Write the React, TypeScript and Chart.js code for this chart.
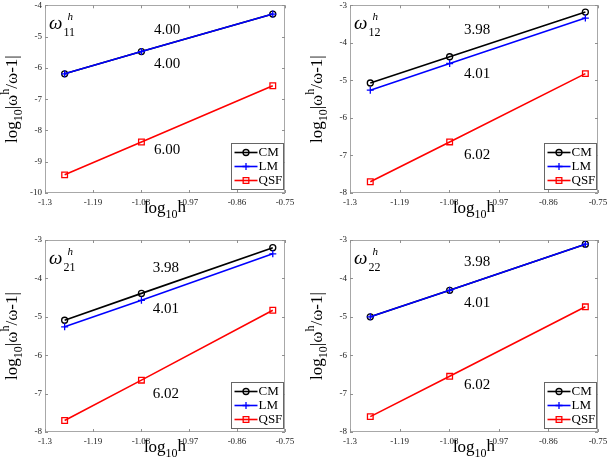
import React, { useEffect, useRef } from 'react';
import { Chart, registerables } from 'chart.js';
import { drawPoint } from 'chart.js/helpers';

Chart.register(...registerables);

// ---------- data ----------
const X_LOG_H = [-1.255, -1.079, -0.778];
const X_TICKS = [-1.3, -1.19, -1.08, -0.97, -0.86, -0.75];
const SERIES_NAMES = ['CM', 'LM', 'QSF'];

const Y_TICKS_11 = [-10, -9, -8, -7, -6, -5, -4];
const Y_TICKS_OTHER = [-8, -7, -6, -5, -4, -3];

const P11_CM = [-6.19, -5.48, -4.28];
const P11_LM = [-6.19, -5.48, -4.28];
const P11_QSF = [-9.42, -8.37, -6.57];
const P11_SLOPES = ['4.00', '4.00', '6.00'];

const P12_CM = [-5.07, -4.37, -3.18];
const P12_LM = [-5.26, -4.55, -3.34];
const P12_QSF = [-7.7, -6.64, -4.82];
const P12_SLOPES = ['3.98', '4.01', '6.02'];

const P21_CM = [-5.09, -4.39, -3.2];
const P21_LM = [-5.26, -4.57, -3.36];
const P21_QSF = [-7.7, -6.65, -4.83];
const P21_SLOPES = ['3.98', '4.01', '6.02'];

const P22_CM = [-5.0, -4.31, -3.11];
const P22_LM = [-5.0, -4.31, -3.11];
const P22_QSF = [-7.6, -6.55, -4.74];
const P22_SLOPES = ['3.98', '4.01', '6.02'];

// slope label anchors (data coordinates)
const P11_SLOPE_X = [-1.02, -1.02, -1.02];
const P11_SLOPE_Y = [-4.79, -5.89, -8.64];
const P12_SLOPE_X = [-1.018, -1.018, -1.018];
const P12_SLOPE_Y = [-3.66, -4.82, -7.0];
const P21_SLOPE_X = [-1.023, -1.023, -1.023];
const P21_SLOPE_Y = [-3.73, -4.8, -7.0];
const P22_SLOPE_X = [-1.018, -1.018, -1.018];
const P22_SLOPE_Y = [-3.57, -4.64, -6.79];

// ---------- styling ----------
const SERIF = '"Liberation Serif", "Times New Roman", serif';
const COLORS = ['#000000', '#0000ff', '#ff0000'];
const POINT_STYLES = ['circle', 'cross', 'rect'];
const POINT_RADII = [3, 3.5, 4];

const W = 305;
const H = 230;

type Part = { t: string; size: number; dy?: number; italic?: boolean };

function measureParts(ctx: CanvasRenderingContext2D, parts: Part[]) {
  let w = 0;
  for (const p of parts) {
    ctx.font = `${p.italic ? 'italic ' : ''}${p.size}px ${SERIF}`;
    w += ctx.measureText(p.t).width;
  }
  return w;
}

function drawParts(ctx: CanvasRenderingContext2D, parts: Part[], x: number, y: number, center: boolean) {
  let cx = center ? x - measureParts(ctx, parts) / 2 : x;
  ctx.textBaseline = 'alphabetic';
  ctx.textAlign = 'left';
  for (const p of parts) {
    ctx.font = `${p.italic ? 'italic ' : ''}${p.size}px ${SERIF}`;
    ctx.fillText(p.t, cx, y + (p.dy || 0));
    cx += ctx.measureText(p.t).width;
  }
}

type Area = { left: number; right: number; top: number; bottom: number };

type PanelProps = {
  x: number;
  y: number;
  area: Area;
  sub: string;
  yTicks: number[];
  cm: number[];
  lm: number[];
  qsf: number[];
  slopes: string[];
  slopeX: number[];
  slopeY: number[];
};

function Panel(props: PanelProps) {
  const ref = useRef<HTMLCanvasElement | null>(null);
  useEffect(() => {
    const canvas = ref.current;
    if (!canvas) return;
    const { area, yTicks, sub, slopes, slopeX, slopeY } = props;
    const series = [props.cm, props.lm, props.qsf];

    const overlay = {
      id: 'overlay',
      afterDraw(chart: any) {
        const ctx: CanvasRenderingContext2D = chart.ctx;
        const ca = chart.chartArea;
        const xs = chart.scales.x;
        const ys = chart.scales.y;
        ctx.save();
        // box
        ctx.strokeStyle = '#a8a8a8';
        ctx.lineWidth = 1;
        ctx.strokeRect(Math.round(ca.left) + 0.5, Math.round(ca.top) + 0.5, Math.round(ca.right - ca.left) - 1, Math.round(ca.bottom - ca.top) - 1);
        // inward ticks
        ctx.strokeStyle = '#909090';
        ctx.beginPath();
        for (const t of xs.ticks) {
          const px = Math.round(xs.getPixelForValue(t.value)) + 0.5;
          ctx.moveTo(px, ca.bottom);
          ctx.lineTo(px, ca.bottom - 3);
          ctx.moveTo(px, ca.top);
          ctx.lineTo(px, ca.top + 3);
        }
        for (const t of ys.ticks) {
          const py = Math.round(ys.getPixelForValue(t.value)) + 0.5;
          ctx.moveTo(ca.left, py);
          ctx.lineTo(ca.left + 3, py);
          ctx.moveTo(ca.right, py);
          ctx.lineTo(ca.right - 3, py);
        }
        ctx.stroke();

        // slope labels
        ctx.fillStyle = '#000';
        ctx.font = `15px ${SERIF}`;
        ctx.textAlign = 'center';
        ctx.textBaseline = 'middle';
        slopes.forEach((s, i) => {
          ctx.fillText(s, xs.getPixelForValue(slopeX[i]), ys.getPixelForValue(slopeY[i]));
        });

        // panel label omega^h_sub
        const lx = ca.left + 4;
        const ly = ca.top + 24;
        ctx.textAlign = 'left';
        ctx.textBaseline = 'alphabetic';
        ctx.font = `italic 19px ${SERIF}`;
        ctx.fillText('\u03c9', lx, ly);
        const ow = ctx.measureText('\u03c9').width;
        ctx.font = `italic 11px ${SERIF}`;
        ctx.fillText('h', lx + ow + 5, ly - 9);
        ctx.font = `12px ${SERIF}`;
        ctx.fillText(sub, lx + ow + 1, ly + 7);

        // x title
        drawParts(
          ctx,
          [
            { t: 'log', size: 17 },
            { t: '10', size: 12, dy: 5 },
            { t: 'h', size: 17, dy: -1 },
          ],
          (ca.left + ca.right) / 2,
          ca.bottom + 20,
          true,
        );

        // y title (rotated)
        ctx.save();
        ctx.translate(17, (ca.top + ca.bottom) / 2);
        ctx.rotate(-Math.PI / 2);
        drawParts(
          ctx,
          [
            { t: 'log', size: 17 },
            { t: '10', size: 12, dy: 5 },
            { t: '|\u03c9', size: 17 },
            { t: 'h', size: 12, dy: -8 },
            { t: '/\u03c9-1|', size: 17 },
          ],
          0,
          0,
          true,
        );
        ctx.restore();

        // legend
        const bw = 52;
        const bh = 46;
        const bx = Math.round(ca.right - 2 - bw) + 0.5;
        const by = Math.round(ca.bottom - 4 - bh) + 0.5;
        ctx.fillStyle = '#fff';
        ctx.fillRect(bx, by, bw, bh);
        ctx.strokeStyle = '#666';
        ctx.lineWidth = 1;
        ctx.strokeRect(bx, by, bw, bh);
        chart.data.datasets.forEach((ds: any, i: number) => {
          const ry = by + 9 + i * 14;
          ctx.strokeStyle = ds.borderColor;
          ctx.lineWidth = 1.6;
          ctx.beginPath();
          ctx.moveTo(bx + 3, ry);
          ctx.lineTo(bx + 26, ry);
          ctx.stroke();
          ctx.fillStyle = 'rgba(0,0,0,0)';
          ctx.lineWidth = 1.3;
          drawPoint(ctx, { pointStyle: ds.pointStyle, radius: ds.pointRadius, rotation: 0, borderWidth: 1.3 } as any, bx + 14.5, ry);
          ctx.fillStyle = '#000';
          ctx.font = `13px ${SERIF}`;
          ctx.textAlign = 'left';
          ctx.textBaseline = 'middle';
          ctx.fillText(ds.label, bx + 27, ry + 0.5);
        });
        ctx.restore();
      },
    };

    const chart = new Chart(canvas, {
      type: 'line',
      data: {
        datasets: SERIES_NAMES.map((name, i) => ({
          label: name,
          data: X_LOG_H.map((xv, k) => ({ x: xv, y: series[i][k] })),
          borderColor: COLORS[i],
          backgroundColor: 'rgba(0,0,0,0)',
          pointBorderColor: COLORS[i],
          pointBackgroundColor: 'rgba(0,0,0,0)',
          pointStyle: POINT_STYLES[i],
          pointRadius: POINT_RADII[i],
          pointBorderWidth: 1.3,
          borderWidth: 1.6,
          tension: 0,
          fill: false,
          order: 2 - i,
        })),
      },
      options: {
        animation: false,
        responsive: false,
        events: [],
        layout: { padding: { top: area.top, right: W - area.right, left: 0, bottom: 0 } },
        plugins: {
          legend: { display: false },
          tooltip: { enabled: false },
          title: { display: false },
        },
        scales: {
          x: {
            type: 'linear',
            min: -1.3,
            max: -0.75,
            grid: { display: false, drawTicks: false, tickLength: 0 },
            border: { display: false },
            afterBuildTicks: (s: any) => {
              s.ticks = X_TICKS.map((v) => ({ value: v }));
            },
            ticks: {
              autoSkip: false,
              maxRotation: 0,
              minRotation: 0,
              padding: 4,
              color: '#222',
              font: { family: SERIF, size: 9 },
              callback: (v: any) => String(Math.round(Number(v) * 100) / 100),
            },
            afterFit: (s: any) => {
              s.height = H - area.bottom;
              s.paddingLeft = 0;
              s.paddingRight = 0;
            },
          },
          y: {
            type: 'linear',
            min: yTicks[0],
            max: yTicks[yTicks.length - 1],
            grid: { display: false, drawTicks: false, tickLength: 0 },
            border: { display: false },
            afterBuildTicks: (s: any) => {
              s.ticks = yTicks.map((v) => ({ value: v }));
            },
            ticks: {
              autoSkip: false,
              padding: 3,
              color: '#222',
              font: { family: SERIF, size: 9 },
              callback: (v: any) => String(Math.round(Number(v))),
            },
            afterFit: (s: any) => {
              s.width = area.left;
              s.paddingTop = 0;
              s.paddingBottom = 0;
            },
          },
        },
      } as any,
      plugins: [overlay],
    });
    return () => chart.destroy();
  }, []);

  return (
    <canvas
      ref={ref}
      width={W}
      height={H}
      style={{ position: 'absolute', left: props.x, top: props.y, width: W, height: H }}
    />
  );
}

export default function App() {
  return (
    <div style={{ position: 'absolute', left: 0, top: 0, width: 610, height: 460, background: '#fff', overflow: 'hidden' }}>
      <Panel x={0} y={0} area={{ left: 45, right: 285, top: 3, bottom: 193 }} sub="11" yTicks={Y_TICKS_11}
        cm={P11_CM} lm={P11_LM} qsf={P11_QSF} slopes={P11_SLOPES} slopeX={P11_SLOPE_X} slopeY={P11_SLOPE_Y} />
      <Panel x={305} y={0} area={{ left: 45, right: 293, top: 3, bottom: 193 }} sub="12" yTicks={Y_TICKS_OTHER}
        cm={P12_CM} lm={P12_LM} qsf={P12_QSF} slopes={P12_SLOPES} slopeX={P12_SLOPE_X} slopeY={P12_SLOPE_Y} />
      <Panel x={0} y={230} area={{ left: 45, right: 285, top: 10, bottom: 202 }} sub="21" yTicks={Y_TICKS_OTHER}
        cm={P21_CM} lm={P21_LM} qsf={P21_QSF} slopes={P21_SLOPES} slopeX={P21_SLOPE_X} slopeY={P21_SLOPE_Y} />
      <Panel x={305} y={230} area={{ left: 45, right: 293, top: 10, bottom: 202 }} sub="22" yTicks={Y_TICKS_OTHER}
        cm={P22_CM} lm={P22_LM} qsf={P22_QSF} slopes={P22_SLOPES} slopeX={P22_SLOPE_X} slopeY={P22_SLOPE_Y} />
    </div>
  );
}
